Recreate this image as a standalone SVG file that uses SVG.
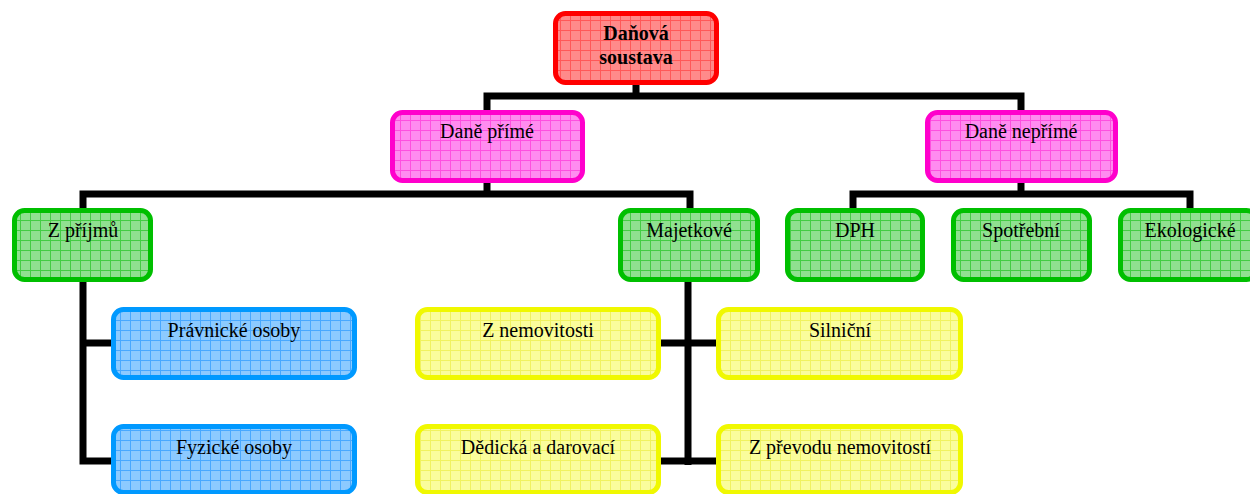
<svg xmlns="http://www.w3.org/2000/svg" width="1250" height="494" viewBox="0 0 1250 494">
  <style>
    .box { stroke-width: 5; }
    .lbl { font-family: "Liberation Serif", "Times New Roman", serif; font-size: 20px; fill: #000; text-anchor: middle; }
    .bold { font-weight: bold; }
    .conn { fill: none; stroke: #000; stroke-width: 7; stroke-linejoin: miter; stroke-linecap: butt; }
    .red { fill: url(#gridRed); stroke: #ff0000; }
    .mag { fill: url(#gridMag); stroke: #ff00cc; }
    .grn { fill: url(#gridGrn); stroke: #00bf00; }
    .blu { fill: url(#gridBlu); stroke: #0099ff; }
    .yel { fill: url(#gridYel); stroke: #f0f800; }
  </style>
  <defs>
    <!-- light hatched fills: tinted base with a 10px grid -->
    <pattern id="gridRed" width="10" height="10" patternUnits="userSpaceOnUse">
      <rect width="10" height="10" fill="#ff8a8a"/>
      <path d="M0,0.5 H10 M0.5,0 V10" stroke="#ff5858" stroke-width="1"/>
    </pattern>
    <pattern id="gridMag" width="10" height="10" patternUnits="userSpaceOnUse">
      <rect width="10" height="10" fill="#ff8cf0"/>
      <path d="M0,0.5 H10 M0.5,0 V10" stroke="#ff50e0" stroke-width="1"/>
    </pattern>
    <pattern id="gridGrn" width="10" height="10" patternUnits="userSpaceOnUse">
      <rect width="10" height="10" fill="#90e090"/>
      <path d="M0,0.5 H10 M0.5,0 V10" stroke="#44cc44" stroke-width="1"/>
    </pattern>
    <pattern id="gridBlu" width="10" height="10" patternUnits="userSpaceOnUse">
      <rect width="10" height="10" fill="#8ccaff"/>
      <path d="M0,0.5 H10 M0.5,0 V10" stroke="#48a8ff" stroke-width="1"/>
    </pattern>
    <pattern id="gridYel" width="10" height="10" patternUnits="userSpaceOnUse">
      <rect width="10" height="10" fill="#fafd9c"/>
      <path d="M0,0.5 H10 M0.5,0 V10" stroke="#f0f260" stroke-width="1"/>
    </pattern>
  </defs>

  <rect width="1250" height="494" fill="#fff"/>

  <g id="connectors">
    <path class="conn" d="M636,85 V96"/>
    <path class="conn" d="M487,110 V96 H1021 V110"/>
    <path class="conn" d="M487,183 V194"/>
    <path class="conn" d="M83,208 V194 H690 V208"/>
    <path class="conn" d="M1021,183 V194"/>
    <path class="conn" d="M853,208 V194 H1190 V208"/>
    <path class="conn" d="M83,282 V461 H112"/>
    <path class="conn" d="M83,343 H112"/>
    <path class="conn" d="M688,282 V465"/>
    <path class="conn" d="M661,343 H717"/>
    <path class="conn" d="M661,461 H717"/>
  </g>

  <g id="root">
    <rect class="box red" x="555.5" y="13.5" width="161" height="69" rx="10"/>
    <text class="lbl bold" x="636" y="40">Daňová</text>
    <text class="lbl bold" x="636" y="64">soustava</text>
  </g>

  <g id="prime">
    <rect class="box mag" x="392.5" y="112.5" width="190" height="68" rx="10"/>
    <text class="lbl" x="487" y="138">Daně přímé</text>
  </g>
  <g id="neprime">
    <rect class="box mag" x="927.5" y="112.5" width="188" height="68" rx="10"/>
    <text class="lbl" x="1021" y="138">Daně nepřímé</text>
  </g>

  <g id="z-prijmu">
    <rect class="box grn" x="14.5" y="210.5" width="136" height="69" rx="10"/>
    <text class="lbl" x="83" y="237">Z příjmů</text>
  </g>
  <g id="majetkove">
    <rect class="box grn" x="620.5" y="210.5" width="137" height="69" rx="10"/>
    <text class="lbl" x="689" y="237">Majetkové</text>
  </g>
  <g id="dph">
    <rect class="box grn" x="787.5" y="210.5" width="135" height="69" rx="10"/>
    <text class="lbl" x="855" y="237">DPH</text>
  </g>
  <g id="spotrebni">
    <rect class="box grn" x="953.5" y="210.5" width="136" height="69" rx="10"/>
    <text class="lbl" x="1021" y="237">Spotřební</text>
  </g>
  <g id="ekologicke">
    <rect class="box grn" x="1120.5" y="210.5" width="136" height="69" rx="10"/>
    <text class="lbl" x="1190" y="237">Ekologické</text>
  </g>

  <g id="pravnicke">
    <rect class="box blu" x="113.5" y="309.5" width="241" height="68" rx="10"/>
    <text class="lbl" x="234" y="337">Právnické osoby</text>
  </g>
  <g id="fyzicke">
    <rect class="box blu" x="113.5" y="426.5" width="241" height="66" rx="10"/>
    <text class="lbl" x="234" y="454">Fyzické osoby</text>
  </g>

  <g id="z-nemovitosti">
    <rect class="box yel" x="417.5" y="309.5" width="241" height="68" rx="10"/>
    <text class="lbl" x="538" y="337">Z nemovitosti</text>
  </g>
  <g id="silnicni">
    <rect class="box yel" x="718.5" y="309.5" width="242" height="68" rx="10"/>
    <text class="lbl" x="840" y="337">Silniční</text>
  </g>
  <g id="dedicka">
    <rect class="box yel" x="417.5" y="426.5" width="241" height="66" rx="10"/>
    <text class="lbl" x="538" y="454">Dědická a darovací</text>
  </g>
  <g id="z-prevodu">
    <rect class="box yel" x="718.5" y="426.5" width="242" height="66" rx="10"/>
    <text class="lbl" x="840" y="454">Z převodu nemovitostí</text>
  </g>
</svg>
